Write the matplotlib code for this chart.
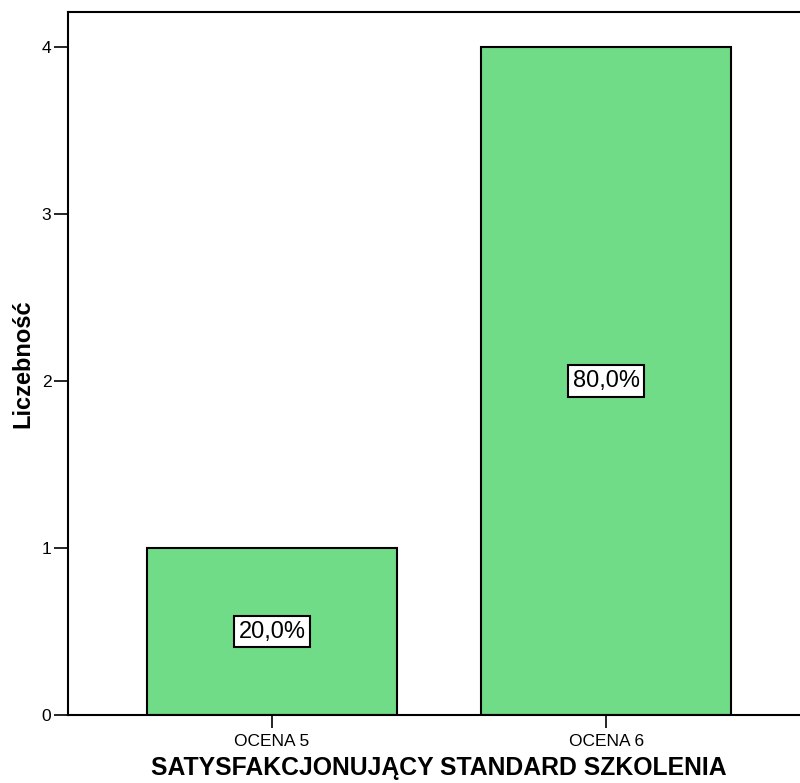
import matplotlib.pyplot as plt
import numpy as np

plt.rcParams['font.family'] = ['Liberation Sans', 'DejaVu Sans']

categories = ['OCENA 5', 'OCENA 6']
counts = [1, 4]
percent_labels = ['20,0%', '80,0%']

fig = plt.figure(figsize=(8, 7.83), dpi=100)
# axes runs slightly past the right edge of the picture, as in the original
ax = fig.add_axes([68 / 800, 68 / 783, 742 / 800, 703 / 783])

x = np.arange(len(categories))
ax.bar(x, counts, width=0.75, color='#71dc87', edgecolor='black', linewidth=1.5)

for xi, c, lab in zip(x, counts, percent_labels):
    ax.text(xi, c / 2, lab, ha='center', va='center', fontsize=17,
            bbox=dict(boxstyle='square,pad=0.2', fc='white', ec='black', lw=1.5))

ax.set_xlim(-0.61, 1.61)
ax.set_ylim(0, 4.21)
ax.set_xticks(x)
ax.set_xticklabels(categories, fontsize=12.5)
ax.set_yticks([0, 1, 2, 3, 4])
ax.set_yticklabels(['0', '1', '2', '3', '4'], fontsize=12.5)
ax.tick_params(axis='x', direction='out', length=9.5, width=1.2, pad=4)
ax.tick_params(axis='y', direction='out', length=10, width=1.2, pad=2)

for side in ['left', 'top', 'bottom', 'right']:
    ax.spines[side].set_linewidth(1.5)

ax.set_xlabel('SATYSFAKCJONUJĄCY STANDARD SZKOLENIA', fontsize=17.8, fontweight='bold', labelpad=5)
ax.set_ylabel('Liczebność', fontsize=17, fontweight='bold', labelpad=5)

fig.savefig('out.png', dpi=100)
